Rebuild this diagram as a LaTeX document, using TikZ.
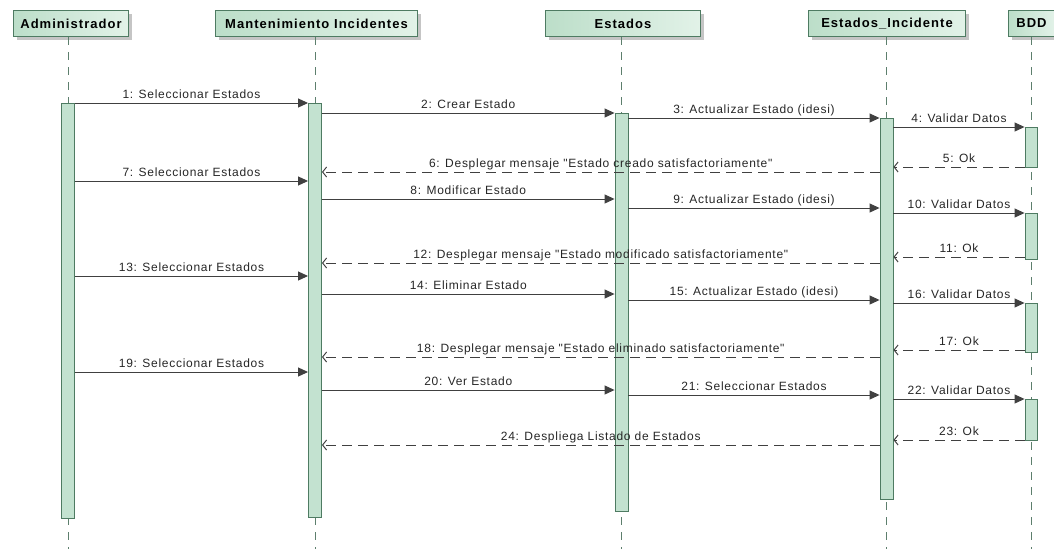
\documentclass[tikz,border=0pt]{standalone}
\usepackage{fontspec}
\setmainfont{Liberation Sans}
\newfontfamily\umlfont[LetterSpace=6]{Liberation Sans}
\newfontfamily\umlheadfont[LetterSpace=8]{Liberation Sans}
\usetikzlibrary{arrows.meta,shadows}
\definecolor{umlline}{HTML}{404040}
\definecolor{umlborder}{HTML}{4E7B62}
\definecolor{umlbar}{HTML}{C3E2D0}
\definecolor{umlheadL}{HTML}{BCDEC9}
\definecolor{umlheadR}{HTML}{E2F2E8}
\definecolor{umllife}{HTML}{5D7F6D}

\begin{document}
\begin{tikzpicture}[x=1pt, y=-1pt,
  head/.style={draw=umlborder, line width=1pt, left color=umlheadL, right color=umlheadR,
    anchor=north west, minimum height=26pt, inner sep=0pt,
    font=\umlheadfont\fontsize{13}{15}\selectfont\bfseries,
    drop shadow={shadow xshift=3pt, shadow yshift=-3pt, fill=black!45}},
  bar/.style={draw=umlborder, line width=0.9pt, fill=umlbar, anchor=north,
    minimum width=13pt, inner sep=0pt},
  life/.style={umllife, line width=0.8pt, dash pattern=on 8pt off 7pt},
  call/.style={umlline, line width=1pt, -{Triangle[length=10pt,width=9pt]}},
  reply/.style={umlline, line width=1pt, dash pattern=on 10pt off 6pt,
    -{Straight Barb[length=4pt,width=10pt]}},
  lbl/.style={above, inner sep=2pt, text depth=2pt, text=black!85,
    font=\umlfont\fontsize{12}{14}\selectfont}]
  \useasboundingbox (0,0) rectangle (1054,549);

  % participants
  \node[head, minimum width=115pt] (hA) at (13,10)   {Administrador};
  \node[head, minimum width=202pt] (hM) at (215,10)  {Mantenimiento Incidentes};
  \node[head, minimum width=155pt] (hE) at (545,10)  {Estados};
  \node[head, minimum width=157pt] (hI) at (808,10)  {Estados\_Incidente};
  \node[head, minimum width=46pt]  (hB) at (1008,10) {BDD};

  % lifelines
  \coordinate (lA) at (68,0);
  \coordinate (lM) at (315,0);
  \coordinate (lE) at (621.5,0);
  \coordinate (lI) at (886.5,0);
  \coordinate (lB) at (1031,0);
  \foreach \h/\l in {hA/lA, hM/lM, hE/lE, hI/lI, hB/lB}
    \draw[life] (\l |- \h.south) -- (\l |- 0,549);

  % activations
  \node[bar, minimum height=415pt] (aA) at (68,103)    {};
  \node[bar, minimum height=414pt] (aM) at (315,103)   {};
  \node[bar, minimum height=398pt] (aE) at (621.5,113) {};
  \node[bar, minimum height=381pt] (aI) at (886.5,118) {};
  \node[bar, minimum width=12pt, minimum height=40pt] (b1) at (1031,127) {};
  \node[bar, minimum width=12pt, minimum height=46pt] (b2) at (1031,213) {};
  \node[bar, minimum width=12pt, minimum height=49pt] (b3) at (1031,303) {};
  \node[bar, minimum width=12pt, minimum height=41pt] (b4) at (1031,399) {};

  % messages
  \foreach \f/\t/\y/\txt in {
      aA/aM/103/{1: Seleccionar Estados},
      aM/aE/113/{2: Crear Estado},
      aE/aI/118/{3: Actualizar Estado (idesi)},
      aI/b1/127/{4: Validar Datos},
      aA/aM/181/{7: Seleccionar Estados},
      aM/aE/199/{8: Modificar Estado},
      aE/aI/208/{9: Actualizar Estado (idesi)},
      aI/b2/213/{10: Validar Datos},
      aA/aM/276/{13: Seleccionar Estados},
      aM/aE/294/{14: Eliminar Estado},
      aE/aI/300/{15: Actualizar Estado (idesi)},
      aI/b3/303/{16: Validar Datos},
      aA/aM/372/{19: Seleccionar Estados},
      aM/aE/390/{20: Ver Estado},
      aE/aI/395/{21: Seleccionar Estados},
      aI/b4/399/{22: Validar Datos}}
    \draw[call] (\f.east |- 0,\y) -- (\t.west |- 0,\y) node[midway, lbl] {\txt};

  % replies
  \foreach \f/\t/\y/\txt in {
      b1/aI/167/{5: Ok},
      aI/aM/172/{6: Desplegar mensaje "Estado creado satisfactoriamente"},
      b2/aI/257/{11: Ok},
      aI/aM/263/{12: Desplegar mensaje "Estado modificado satisfactoriamente"},
      b3/aI/350/{17: Ok},
      aI/aM/357/{18: Desplegar mensaje "Estado eliminado satisfactoriamente"},
      b4/aI/440/{23: Ok},
      aI/aM/445/{24: Despliega Listado de Estados}}
    \draw[reply] (\f.west |- 0,\y) -- (\t.east |- 0,\y) node[midway, lbl] {\txt};
\end{tikzpicture}
\end{document}
